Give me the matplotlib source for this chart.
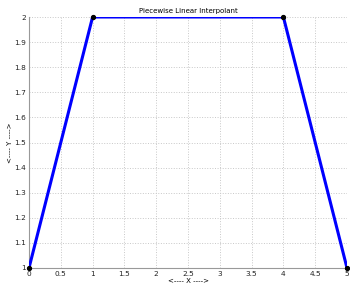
import matplotlib.pyplot as plt

# Interpolation nodes
x = [0, 1, 4, 5]
y = [1, 2, 2, 1]

xticks = [0, 0.5, 1, 1.5, 2, 2.5, 3, 3.5, 4, 4.5, 5]
yticks = [1, 1.1, 1.2, 1.3, 1.4, 1.5, 1.6, 1.7, 1.8, 1.9, 2]

fig = plt.figure(figsize=(3.5, 2.88), dpi=100)
ax = fig.add_axes([29 / 350, 20 / 288, 318 / 350, 251 / 288])

ax.plot(x, y, color='#0000ff', linewidth=2.2, clip_on=True, zorder=3)
ax.plot(x, y, 'o', color='black', markersize=2.8, clip_on=False, zorder=4)

ax.set_xlim(0, 5)
ax.set_ylim(1, 2)
ax.set_xticks(xticks)
ax.set_xticklabels(['0', '0.5', '1', '1.5', '2', '2.5', '3', '3.5', '4', '4.5', '5'])
ax.set_yticks(yticks)
ax.set_yticklabels(['1', '1.1', '1.2', '1.3', '1.4', '1.5', '1.6', '1.7', '1.8', '1.9', '2'])
ax.tick_params(labelsize=5.3, length=0, pad=2, colors='#222222')

ax.grid(True, linestyle=':', color='#c8c8c8', linewidth=0.7)
for s in ['top', 'right']:
    ax.spines[s].set_visible(False)
for s in ['left', 'bottom']:
    ax.spines[s].set_color('#999999')
    ax.spines[s].set_linewidth(0.8)

ax.set_title('Piecewise Linear Interpolant', fontsize=5, pad=3)
ax.set_xlabel('<---- X ---->', fontsize=5, labelpad=1)
ax.set_ylabel('<---- Y ---->', fontsize=5, labelpad=1)

plt.savefig('out.png', dpi=100)
